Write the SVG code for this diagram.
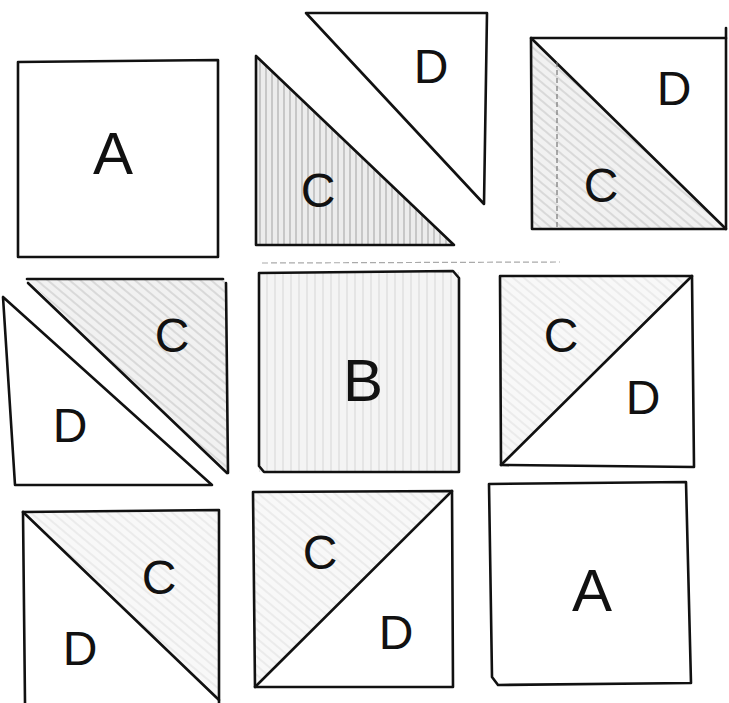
<svg xmlns="http://www.w3.org/2000/svg" width="729" height="703" viewBox="0 0 729 703">
<style>
.e{fill:none;stroke:#111;stroke-width:2.6;stroke-linejoin:round;stroke-linecap:round}
.t{font-family:"Liberation Sans","DejaVu Sans",sans-serif;font-size:48px;fill:#111;text-anchor:middle;dominant-baseline:central}
.big{font-size:60px}
</style>
<defs>
<pattern id="hv" width="6" height="6" patternUnits="userSpaceOnUse">
<rect width="6" height="6" fill="#ececec"/>
<line x1="2" y1="0" x2="2" y2="6" stroke="#9a9a9a" stroke-width="0.9"/>
</pattern>
<pattern id="hd" width="7" height="7" patternUnits="userSpaceOnUse" patternTransform="rotate(40)">
<rect width="7" height="7" fill="#f1f1f1"/>
<line x1="0" y1="2" x2="7" y2="2" stroke="#b4b4b4" stroke-width="0.8"/>
</pattern>
<pattern id="hl" width="7" height="7" patternUnits="userSpaceOnUse" patternTransform="rotate(40)">
<rect width="7" height="7" fill="#f8f8f8"/>
<line x1="0" y1="2" x2="7" y2="2" stroke="#d4d4d4" stroke-width="0.7"/>
</pattern>
<pattern id="hb" width="8" height="8" patternUnits="userSpaceOnUse">
<rect width="8" height="8" fill="#f4f4f4"/>
<line x1="3" y1="0" x2="3" y2="8" stroke="#cfcfcf" stroke-width="0.8"/>
</pattern>
</defs>
<rect width="729" height="703" fill="#fff"/>

<g id="tile-a-top">
<path class="e" d="M18,62 L218,60 L218,257 L18,257 Z"/>
<text class="t big" x="113" y="153">A</text>
</g>

<g id="tile-c-top">
<path d="M256,56 L256,245 L454,245 Z" fill="url(#hv)"/>
<path class="e" d="M256,56 L256,245 L454,245 Z"/>
<text class="t" x="318" y="190">C</text>
</g>

<g id="tile-d-top">
<path class="e" d="M306,13 L487,13 L484,204 Z"/>
<text class="t" x="431" y="66">D</text>
</g>

<g id="tile-cd-topright">
<path d="M531,38 L726,229 L531,229 Z" fill="url(#hd)"/>
<path class="e" d="M531,38 L726,38 L726,229 L532,229 Z"/>
<path class="e" d="M726,28 L726,38"/>
<path class="e" d="M531,38 L726,229"/>
<path d="M557,62 L557,229" stroke="#777" stroke-width="1.2" stroke-dasharray="5 3" fill="none"/>
<text class="t" x="674" y="88">D</text>
<text class="t" x="601" y="185">C</text>
</g>

<g id="tile-d-mid">
<path class="e" d="M3,297 L15,485 L212,485 Z"/>
<text class="t" x="70" y="425">D</text>
</g>

<g id="tile-c-mid">
<path d="M27,279 L225,279 L227,473 Z" fill="url(#hd)"/>
<path class="e" d="M27,279 L223,279"/>
<path class="e" d="M226,283 L228,473"/>
<path class="e" d="M28,283 L227,473"/>
<text class="t" x="172" y="335">C</text>
</g>

<g id="tile-b">
<rect x="259" y="272" width="200" height="200" fill="url(#hb)"/>
<path class="e" d="M259,273 L453,271 L459,278 L459,472 L264,472 L259,466 Z"/>
<path d="M262,263 L560,262" stroke="#aaa" stroke-width="1.2" stroke-dasharray="6 3" fill="none"/>
<text class="t big" x="363" y="380">B</text>
</g>

<g id="tile-cd-mid">
<path d="M500,276 L692,276 L500,465 Z" fill="url(#hl)"/>
<path class="e" d="M500,276 L692,276 L694,467 L501,465 Z"/>
<path class="e" d="M501,465 L692,276"/>
<text class="t" x="561" y="335">C</text>
<text class="t" x="643" y="397">D</text>
</g>

<g id="tile-cd-bottomleft">
<path d="M23,512 L219,512 L219,700 Z" fill="url(#hl)"/>
<path class="e" d="M23,512 L219,510 L219,703"/>
<path class="e" d="M23,512 L25,703"/>
<path class="e" d="M23,512 L219,700"/>
<text class="t" x="159" y="577">C</text>
<text class="t" x="80" y="648">D</text>
</g>

<g id="tile-cd-bottommid">
<path d="M253,492 L452,491 L255,687 Z" fill="url(#hl)"/>
<path class="e" d="M253,492 L452,491 L453,687 L255,687 Z"/>
<path class="e" d="M255,687 L452,491"/>
<text class="t" x="320" y="552">C</text>
<text class="t" x="396" y="632">D</text>
</g>

<g id="tile-a-bottom">
<path class="e" d="M489,484 L686,482 L691,683 L498,685 L492,677 Z"/>
<text class="t big" x="592" y="590">A</text>
</g>
</svg>
